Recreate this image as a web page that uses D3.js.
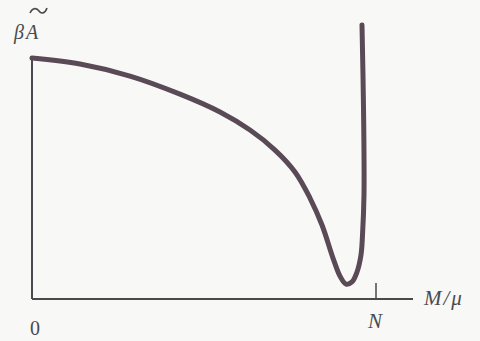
<!DOCTYPE html>
<html>
<head>
<meta charset="utf-8">
<script src="https://cdn.jsdelivr.net/npm/d3@7"></script>
<style>
  html, body { margin: 0; padding: 0; background: #f8f8f6; }
  svg { display: block; }
</style>
</head>
<body>
<svg id="chart" width="480" height="341"></svg>
<script>
// M/μ in units of N, and free energy in units of βÃ
const massValues = [0, 0.1395, 0.2849, 0.4302, 0.5465, 0.6337, 0.7064, 0.7645, 0.8081, 0.843, 0.875, 0.8953, 0.9128, 0.9302, 0.9448, 0.9564, 0.9608, 0.9651, 0.9637, 0.9593];
const energyValues = [1.0, 0.975, 0.925, 0.85, 0.776, 0.701, 0.618, 0.527, 0.419, 0.307, 0.170, 0.095, 0.062, 0.071, 0.112, 0.183, 0.266, 0.432, 0.793, 1.137];
const xTickValues = [1];
const xTickLabels = ["N"];

const svg = d3.select("#chart");
const x = d3.scaleLinear().domain([0, 1]).range([32, 376]);
const y = d3.scaleLinear().domain([0, 1]).range([299, 58]);

const ink = "#4a4a4e";
const serif = "'Liberation Serif', 'DejaVu Serif', serif";

// axes
svg.append("line")
  .attr("x1", x(0)).attr("x2", 413)
  .attr("y1", y(0)).attr("y2", y(0))
  .attr("stroke", ink).attr("stroke-width", 2);
svg.append("line")
  .attr("x1", x(0)).attr("x2", x(0))
  .attr("y1", y(0)).attr("y2", y(1))
  .attr("stroke", ink).attr("stroke-width", 2);

// tick at N
svg.selectAll(".tick")
  .data(xTickValues)
  .enter().append("line")
  .attr("x1", d => x(d)).attr("x2", d => x(d))
  .attr("y1", y(0)).attr("y2", y(0) - 16)
  .attr("stroke", ink).attr("stroke-width", 1.5);
svg.selectAll(".ticklabel")
  .data(xTickValues)
  .enter().append("text")
  .attr("x", d => x(d) - 1).attr("y", 328)
  .attr("text-anchor", "middle")
  .attr("font-family", serif).attr("font-style", "italic")
  .attr("font-size", 21).attr("fill", ink)
  .text((d, i) => xTickLabels[i]);

// origin
svg.append("text")
  .attr("x", x(0) + 3).attr("y", 335)
  .attr("text-anchor", "middle")
  .attr("font-family", serif).attr("font-size", 20).attr("fill", ink)
  .text("0");

// axis titles
svg.append("text")
  .attr("x", 424).attr("y", 305)
  .attr("font-family", serif).attr("font-style", "italic")
  .attr("font-size", 21).attr("letter-spacing", 2).attr("fill", ink)
  .text("M/μ");
const yTitle = svg.append("text")
  .attr("x", 14).attr("y", 39)
  .attr("font-family", serif).attr("font-style", "italic")
  .attr("font-size", 20).attr("fill", ink);
yTitle.append("tspan").text("β");
yTitle.append("tspan").attr("dx", 2).text("A");
// wide tilde over the A
svg.append("path")
  .attr("d", "M30,13 C33,7 37,8 39,11 C41,14 45,14 47,8")
  .attr("fill", "none").attr("stroke", ink).attr("stroke-width", 1.6);

// curve
const pts = massValues.map((m, i) => [m, energyValues[i]]);
svg.append("path")
  .datum(pts)
  .attr("fill", "none")
  .attr("stroke", "#5a4a56")
  .attr("stroke-width", 5)
  .attr("stroke-linecap", "round")
  .attr("stroke-linejoin", "round")
  .attr("d", d3.line().x(d => x(d[0])).y(d => y(d[1])).curve(d3.curveCatmullRom.alpha(0.5)));
</script>
</body>
</html>
